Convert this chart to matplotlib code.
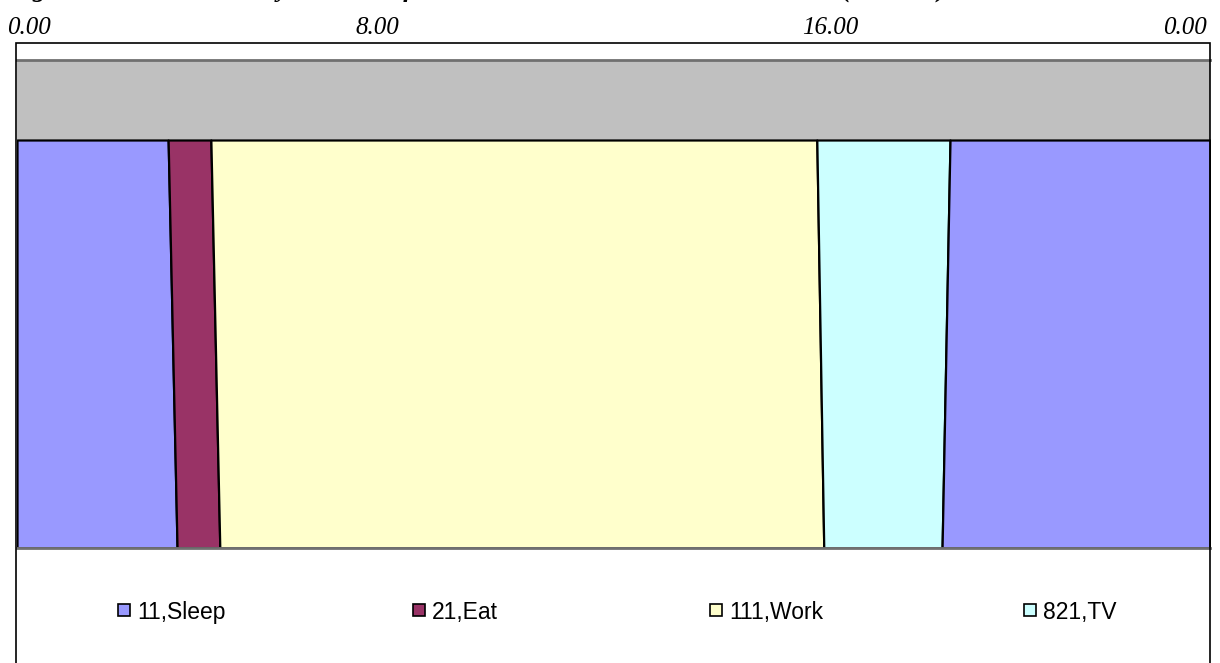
import numpy as np
import matplotlib.pyplot as plt
from matplotlib.patches import Rectangle

plt.rcParams['font.family'] = 'Liberation Sans'

# Activity blocks across the day (hours), read at the top and bottom edge of the band
activities = ['11,Sleep', '21,Eat', '111,Work', '821,TV', '11,Sleep']
colors = ['#9999FF', '#993366', '#FFFFCC', '#CCFFFF', '#9999FF']
hours_top = [3.04, 0.86, 12.19, 2.68, 5.23]
hours_bottom = [3.22, 0.86, 12.15, 2.38, 5.39]

tick_labels = ['0.00', '8.00', '16.00', '0.00']
legend_labels = ['11,Sleep', '21,Eat', '111,Work', '821,TV']
legend_colors = ['#9999FF', '#993366', '#FFFFCC', '#CCFFFF']

title = 'Figure 1: Time Use Diary Records of the Main Activities at Home and Work (minutes)'

W, H = 1220, 663
fig = plt.figure(figsize=(W / 100, H / 100), dpi=100)

# plot area in pixel coordinates
left, right, top, bottom = 17, 1210, 60, 548
ax = fig.add_axes([left / W, 1 - bottom / H, (right - left) / W, (bottom - top) / H])
ax.set_facecolor('#C0C0C0')

# stacked areas between bottom (y=0) and top (y=1)
start_top = np.concatenate([[0], np.cumsum(hours_top)[:-1]])
start_bot = np.concatenate([[0], np.cumsum(hours_bottom)[:-1]])
for st, sb, ht, hb, c in zip(start_top, start_bot, hours_top, hours_bottom, colors):
    ax.fill_betweenx([0, 1], [sb, st], [sb + hb, st + ht],
                     facecolor=c, edgecolor='black', linewidth=1.6)

ax.set_xlim(0, 24)
ax.set_ylim(0, 1 + 80 / 408)
ax.set_xticks([])
ax.set_yticks([])
for s in ['left', 'right']:
    ax.spines[s].set_visible(False)
for s in ['top', 'bottom']:
    ax.spines[s].set_color('#707070')
    ax.spines[s].set_linewidth(2)

# outer chart border
fig.patches.append(Rectangle((16 / W, -0.01), (1210 - 16) / W, 1.01 - 43 / H,
                             transform=fig.transFigure, fill=False,
                             edgecolor='black', linewidth=1.2, zorder=5))

# time labels along the top
tick_x = [29, 377, 830, 1185]
for x, lab in zip(tick_x, tick_labels):
    fig.text(x / W, 1 - 34 / H, lab, ha='center', va='baseline', fontsize=18,
             family='Liberation Serif', style='italic')

# title, mostly cut off at the top
fig.text(8 / W, 1 + 3 / H, title, ha='left', va='baseline', fontsize=19,
         family='Liberation Serif', style='italic', weight='bold')

# legend
leg_x = [118, 413, 710, 1024]
leg_y = 610
sq = 12
for x, lab, c in zip(leg_x, legend_labels, legend_colors):
    fig.patches.append(Rectangle((x / W, 1 - (leg_y + sq / 2) / H), sq / W, sq / H,
                                 transform=fig.transFigure, facecolor=c,
                                 edgecolor='black', linewidth=1.2))
    fig.text((x + sq + 7) / W, 1 - leg_y / H, lab, ha='left', va='center_baseline',
             fontsize=16.5)

fig.savefig('out.png', dpi=100)
